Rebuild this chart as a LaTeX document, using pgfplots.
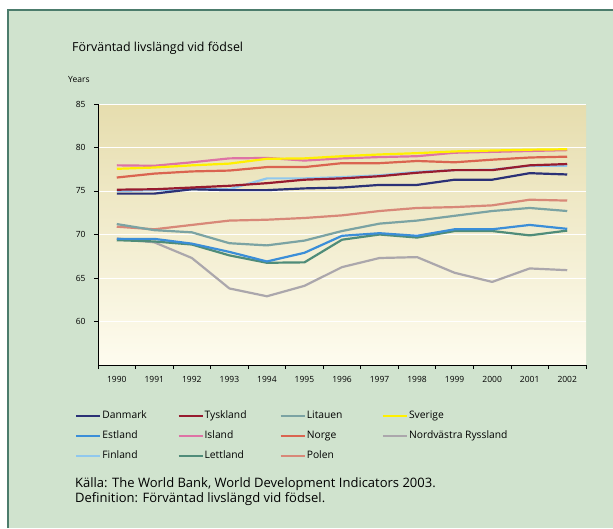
\documentclass[border=0pt]{standalone}
\usepackage{fontspec}
\setmainfont{Open Sans}
\usepackage{pgfplots}
\usepackage{pgfplotstable}
\pgfplotsset{compat=1.18}

\definecolor{bg}{HTML}{D0E3CE}
\definecolor{frame}{HTML}{4C7C6C}
\definecolor{plottop}{HTML}{E6DDAE}
\definecolor{plotbot}{HTML}{FEFCEF}
\definecolor{cdk}{HTML}{2B3176}
\definecolor{cde}{HTML}{971B2F}
\definecolor{clt}{HTML}{7BA3A3}
\definecolor{cse}{HTML}{FFF000}
\definecolor{cee}{HTML}{3B8ED8}
\definecolor{cis}{HTML}{DE73A5}
\definecolor{cno}{HTML}{DA6450}
\definecolor{cru}{HTML}{ABA7AC}
\definecolor{cfi}{HTML}{90C8EE}
\definecolor{clv}{HTML}{4F8C79}
\definecolor{cpl}{HTML}{D88878}

\pgfplotstableread{
year dk    de    lt    se    ee    is    no    ru    fi    lv    pl
1990 74.70 75.15 71.20 77.55 69.50 77.95 76.55 69.55 75.00 69.35 70.90
1991 74.70 75.20 70.50 77.70 69.50 77.90 77.00 69.10 75.10 69.20 70.60
1992 75.20 75.40 70.25 77.95 68.95 78.30 77.25 67.30 75.20 68.85 71.10
1993 75.10 75.60 69.00 78.15 68.00 78.75 77.35 63.80 75.20 67.60 71.60
1994 75.10 75.90 68.75 78.70 66.90 78.80 77.75 62.90 76.45 66.75 71.70
1995 75.30 76.30 69.30 78.75 67.90 78.50 77.75 64.10 76.45 66.80 71.90
1996 75.40 76.45 70.40 79.00 69.85 78.75 78.20 66.25 76.60 69.40 72.20
1997 75.70 76.70 71.25 79.20 70.15 78.90 78.20 67.30 76.80 70.00 72.70
1998 75.70 77.10 71.60 79.35 69.85 79.00 78.45 67.40 77.20 69.65 73.05
1999 76.30 77.40 72.15 79.55 70.60 79.40 78.30 65.60 77.40 70.40 73.15
2000 76.30 77.40 72.70 79.65 70.60 79.50 78.60 64.55 77.45 70.40 73.35
2001 77.05 77.95 73.05 79.75 71.10 79.60 78.85 66.10 77.90 69.90 74.00
2002 76.90 78.10 72.70 79.80 70.65 79.70 78.95 65.90 77.90 70.45 73.90
}\lifedata

\begin{document}
\begin{tikzpicture}[x=1pt,y=1pt]
\useasboundingbox (0pt,0pt) rectangle (613pt,-528pt);
\fill[white] (0pt,0pt) rectangle (613pt,-528pt);
\fill[bg] (8pt,-10pt) rectangle (613pt,-528pt);
\draw[frame, line width=1.8pt] (8pt,-528pt) -- (8pt,-10pt) -- (613pt,-10pt);
\node[anchor=west, font=\fontsize{12.4}{14}\selectfont, inner sep=0pt] at (72pt,-48pt) {Förväntad livslängd vid födsel};
\node[anchor=west, font=\fontsize{8.5}{10}\selectfont, inner sep=0pt] at (68pt,-80pt) {Years};
\node[anchor=west, font=\fontsize{13}{15}\selectfont, inner sep=0pt] at (75pt,-484pt) {Källa: The World Bank, World Development Indicators 2003.};
\node[anchor=west, font=\fontsize{13}{15}\selectfont, inner sep=0pt] at (75pt,-499pt) {Definition: Förväntad livslängd vid födsel.};
\begin{axis}[
  at={(98pt,-365pt)}, anchor=south west,
  scale only axis, width=488pt, height=261pt,
  xmin=1989.5, xmax=2002.5, ymin=55, ymax=85,
  axis lines=left, axis line style={-, black, line width=0.8pt},
  xtick={1990,1991,1992,1993,1994,1995,1996,1997,1998,1999,2000,2001,2002},
  xticklabels={1990,1991,1992,1993,1994,1995,1996,1997,1998,1999,2000,2001,2002},
  minor xtick={1989.5,1990.5,1991.5,1992.5,1993.5,1994.5,1995.5,1996.5,1997.5,1998.5,1999.5,2000.5,2001.5,2002.5},
  major x tick style={draw=none},
  minor x tick style={black, line width=0.8pt},
  ytick={60,65,70,75,80,85},
  y tick style={black, line width=0.8pt},
  tick align=outside, major tick length=4pt, minor tick length=4pt,
  ymajorgrids, major grid style={white, line width=1pt},
  tick label style={font=\fontsize{8.5}{10}\selectfont},
  xticklabel style={yshift=-4pt},
  yticklabel style={xshift=-5pt},
  /pgf/number format/assume math mode=true,
  axis background/.style={top color=plottop, bottom color=plotbot},
  every axis plot/.append style={line width=2.2pt, line join=round, no markers},
  legend columns=4,
  legend cell align=left,
  legend style={at={(axis description cs:-0.0471,-0.1705)}, anchor=north west,
    draw=none, fill=none, inner sep=0pt, row sep=7pt, column sep=0pt,
    font=\fontsize{10.3}{12}\selectfont,
    nodes={inner sep=1pt, text height=8pt, text depth=3pt},
    /tikz/every even column/.append style={column sep=2pt}},
  legend image code/.code={\draw[#1] (0pt,0pt) -- (24pt,0pt);},
]
\addplot[cfi, forget plot] table[x=year, y=fi] {\lifedata};
\addplot[cdk, forget plot] table[x=year, y=dk] {\lifedata};
\addplot[cde, forget plot] table[x=year, y=de] {\lifedata};
\addplot[cis, forget plot] table[x=year, y=is] {\lifedata};
\addplot[cse, forget plot] table[x=year, y=se] {\lifedata};
\addplot[cno, forget plot] table[x=year, y=no] {\lifedata};
\addplot[cpl, forget plot] table[x=year, y=pl] {\lifedata};
\addplot[clt, forget plot] table[x=year, y=lt] {\lifedata};
\addplot[cru, forget plot] table[x=year, y=ru] {\lifedata};
\addplot[clv, forget plot] table[x=year, y=lv] {\lifedata};
\addplot[cee, forget plot] table[x=year, y=ee] {\lifedata};
\addlegendimage{cdk, line width=2.2pt}\addlegendentry{\makebox[72pt][l]{Danmark}}
\addlegendimage{cde, line width=2.2pt}\addlegendentry{\makebox[72pt][l]{Tyskland}}
\addlegendimage{clt, line width=2.2pt}\addlegendentry{\makebox[72pt][l]{Litauen}}
\addlegendimage{cse, line width=2.2pt}\addlegendentry{\makebox[72pt][l]{Sverige}}
\addlegendimage{cee, line width=2.2pt}\addlegendentry{\makebox[72pt][l]{Estland}}
\addlegendimage{cis, line width=2.2pt}\addlegendentry{\makebox[72pt][l]{Island}}
\addlegendimage{cno, line width=2.2pt}\addlegendentry{\makebox[72pt][l]{Norge}}
\addlegendimage{cru, line width=2.2pt}\addlegendentry{\makebox[72pt][l]{Nordvästra Ryssland}}
\addlegendimage{cfi, line width=2.2pt}\addlegendentry{\makebox[72pt][l]{Finland}}
\addlegendimage{clv, line width=2.2pt}\addlegendentry{\makebox[72pt][l]{Lettland}}
\addlegendimage{cpl, line width=2.2pt}\addlegendentry{\makebox[72pt][l]{Polen}}
\end{axis}
\end{tikzpicture}
\end{document}
